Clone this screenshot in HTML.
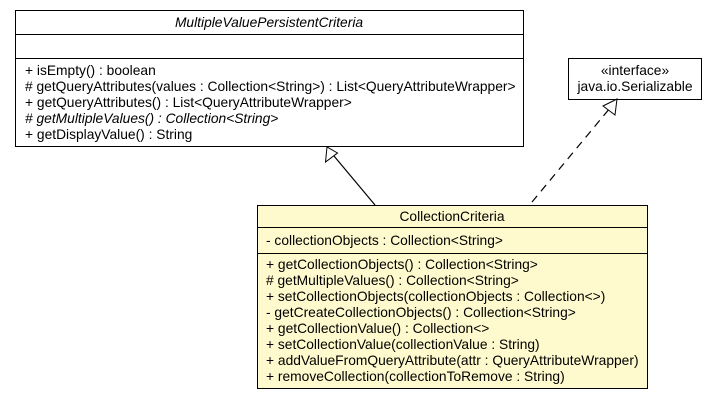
<!DOCTYPE html>
<html><head><meta charset="utf-8"><style>
html,body{margin:0;padding:0;background:#fff;}
text{font-family:"Liberation Sans",Arial,sans-serif;font-size:13.8px;fill:#000;}
</style></head><body>
<svg width="717" height="400" xmlns="http://www.w3.org/2000/svg">
<rect x="15.5" y="10.5" width="508" height="136" fill="#fff" stroke="#000"/>
<line x1="15" y1="34.5" x2="523" y2="34.5" stroke="#000"/>
<line x1="15" y1="58.5" x2="523" y2="58.5" stroke="#000"/>
<text x="269" y="27" text-anchor="middle" font-style="italic">MultipleValuePersistentCriteria</text>
<text x="25" y="75">+ isEmpty() : boolean</text>
<text x="25" y="91"># getQueryAttributes(values : Collection&lt;String&gt;) : List&lt;QueryAttributeWrapper&gt;</text>
<text x="25" y="107">+ getQueryAttributes() : List&lt;QueryAttributeWrapper&gt;</text>
<text x="25" y="123" font-style="italic"># getMultipleValues() : Collection&lt;String&gt;</text>
<text x="25" y="139">+ getDisplayValue() : String</text>

<rect x="568.5" y="58.5" width="133" height="41" fill="#fff" stroke="#000"/>
<text x="635" y="75" text-anchor="middle">«interface»</text>
<text x="635" y="91" text-anchor="middle">java.io.Serializable</text>

<rect x="257.5" y="205.5" width="390" height="183" fill="#fffacd" stroke="#000"/>
<line x1="257" y1="227.5" x2="647" y2="227.5" stroke="#000"/>
<line x1="257" y1="253.5" x2="647" y2="253.5" stroke="#000"/>
<text x="452" y="221" text-anchor="middle">CollectionCriteria</text>
<text x="266" y="245">- collectionObjects : Collection&lt;String&gt;</text>
<text x="266" y="269">+ getCollectionObjects() : Collection&lt;String&gt;</text>
<text x="266" y="285"># getMultipleValues() : Collection&lt;String&gt;</text>
<text x="266" y="301">+ setCollectionObjects(collectionObjects : Collection&lt;&gt;)</text>
<text x="266" y="317">- getCreateCollectionObjects() : Collection&lt;String&gt;</text>
<text x="266" y="333">+ getCollectionValue() : Collection&lt;&gt;</text>
<text x="266" y="349">+ setCollectionValue(collectionValue : String)</text>
<text x="266" y="365">+ addValueFromQueryAttribute(attr : QueryAttributeWrapper)</text>
<text x="266" y="381">+ removeCollection(collectionToRemove : String)</text>

<line x1="375" y1="205" x2="334" y2="156" stroke="#000" stroke-width="1.2"/>
<polygon points="327,147 325.5,162 337.5,153" fill="#fff" stroke="#000"/>
<line x1="532" y1="202" x2="610" y2="108" stroke="#000" stroke-width="1.2" stroke-dasharray="8,6"/>
<polygon points="617,99 603,106 615,115" fill="#fff" stroke="#000"/>
</svg>
</body></html>
